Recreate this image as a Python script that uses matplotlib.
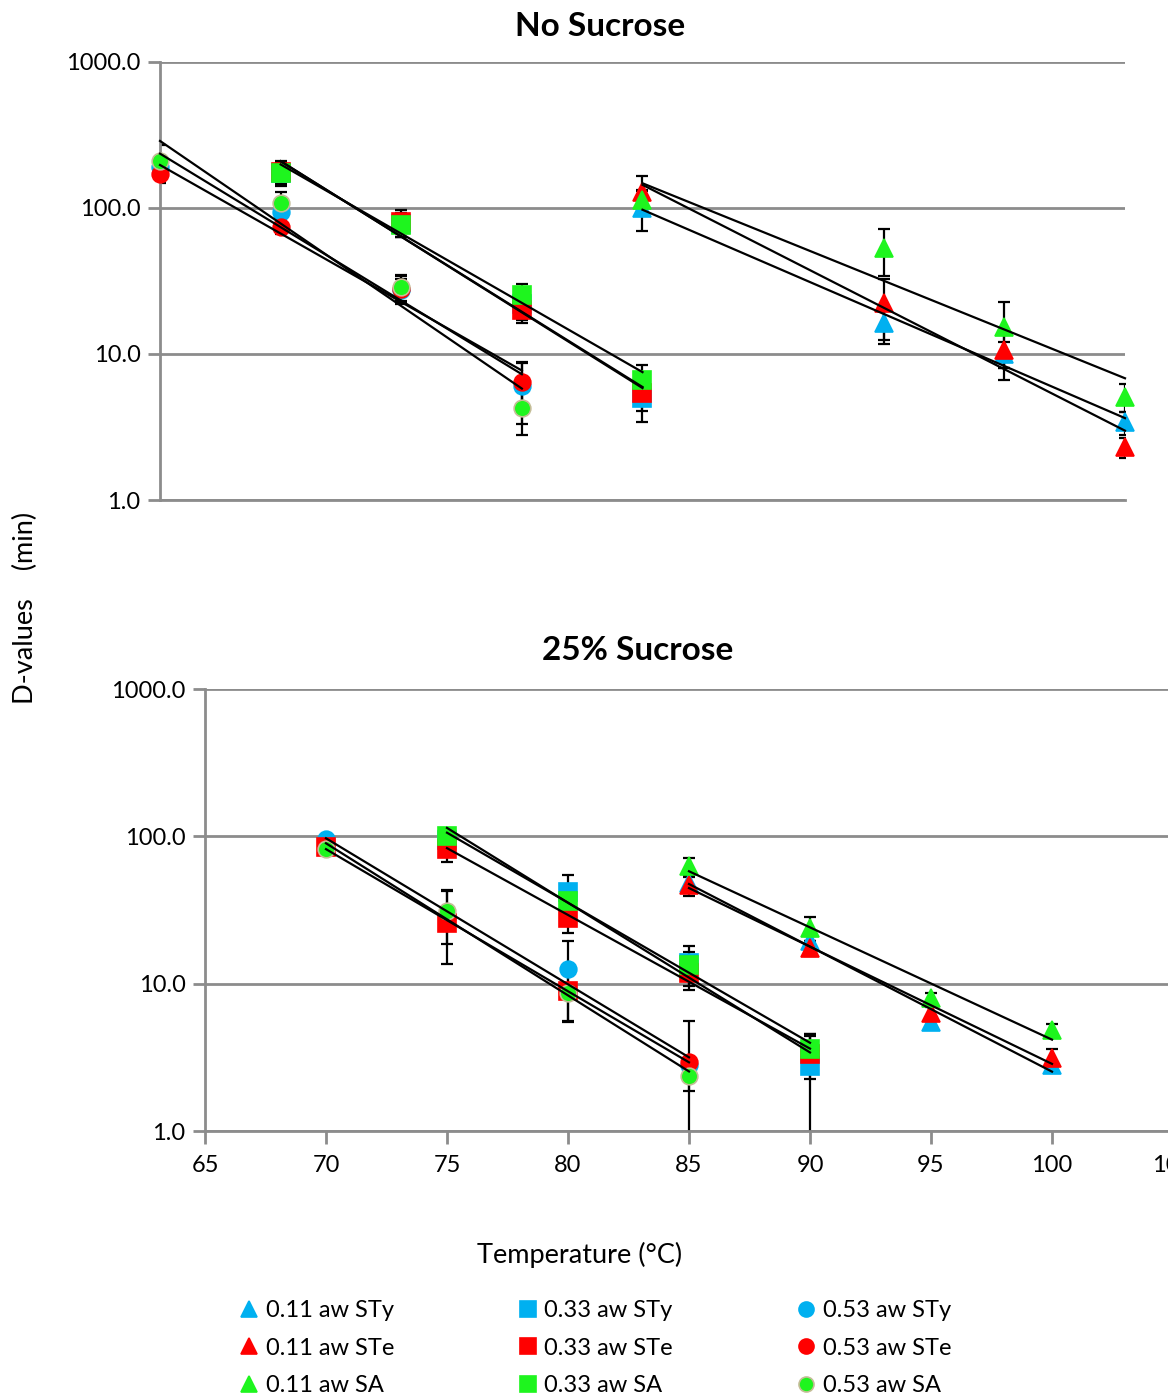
import matplotlib
matplotlib.use('Agg')
import matplotlib.pyplot as plt
from matplotlib.lines import Line2D
from matplotlib.ticker import FuncFormatter, NullLocator
import numpy as np

plt.rcParams['font.family'] = ['Lato', 'DejaVu Sans']

# colours of the three strains
blue = '#00B0F0'
red = '#FF0000'
green = '#1EF51E'
sa_edge = '#C4BD97'

# ---- No Sucrose (top panel) ----
top_tri_x = [83, 93, 98, 103]
top_tri_sty = [100, 16.2, 10.0, 3.4]
top_tri_sty_err = [30, 3.7, 2.0, 0.6]
top_tri_ste = [129, 22.3, 10.6, 2.3]
top_tri_ste_err = [36, 10.5, 4.0, 0.36]
top_tri_sa = [113, 53, 15.4, 5.1]
top_tri_sa_err = [20, 19, 7.4, 1.1]

top_sq_x = [68, 73, 78, 83]
top_sq_sty = [175, 78, 22, 5.0]
top_sq_sty_err = [30, 15, 5, 1.6]
top_sq_ste = [177, 80.5, 20, 5.4]
top_sq_ste_err = [34, 17, 3.7, 1.3]
top_sq_sa = [174, 76.5, 25.4, 6.6]
top_sq_sa_err = [32, 13, 4.6, 1.8]

top_ci_x = [63, 68, 73, 78]
top_ci_sty = [190, 94, 27.4, 6.0]
top_ci_sty_err = [25, 10, 5, 2.7]
top_ci_ste = [171, 74.5, 28, 6.46]
top_ci_ste_err = [23, 8, 6, 2.4]
top_ci_sa = [210, 108, 28.9, 4.25]
top_ci_sa_err = [60, 20, 5.8, 1.45]

# ---- 25% Sucrose (bottom panel) ----
bot_tri_x = [85, 90, 95, 100]
bot_tri_sty = [48, 19.4, 5.5, 2.81]
bot_tri_sty_err = [5, 1.6, 0.56, 0.07]
bot_tri_ste = [47, 17.5, 6.3, 3.12]
bot_tri_ste_err = [7.5, 2.0, 0.6, 0.5]
bot_tri_sa = [62.8, 23.9, 8.0, 4.86]
bot_tri_sa_err = [8.7, 4.4, 0.7, 0.45]

bot_sq_x = [75, 80, 85, 90]
bot_sq_sty = [95, 41.6, 13.8, 2.78]
bot_sq_sty_err = [4, 13, 4.1, 1.8]
bot_sq_ste = [81.6, 28, 11.9, 3.34]
bot_sq_ste_err = [15, 6, 2.8, 1.1]
bot_sq_sa = [100, 36.3, 13.4, 3.63]
bot_sq_sa_err = [3, 8, 3, 0.9]

bot_ci_x = [70, 75, 80, 85]
bot_ci_sty = [96, 28, 12.5, 2.8]
bot_ci_sty_err = [3, 14.5, 7, 0.3]
bot_ci_ste = [84, 25.9, 8.9, 2.96]
bot_ci_ste_err = [3, 2, 1, 2.6]
bot_ci_ste_markers = ['s', 's', 's', 'o']
bot_ci_sa = [81.6, 31, 8.6, 2.38]
bot_ci_sa_err = [3, 12.5, 3, 0.5]

labels = ['0.11 aw STy', '0.11 aw STe', '0.11 aw SA',
          '0.33 aw STy', '0.33 aw STe', '0.33 aw SA',
          '0.53 aw STy', '0.53 aw STe', '0.53 aw SA']

W, H = 1168, 1399
fig = plt.figure(figsize=(W / 100, H / 100), dpi=100)
ax1 = fig.add_axes([160 / W, 1 - 500 / H, 965 / W, 438 / H])
ax2 = fig.add_axes([205 / W, 1 - 1131 / H, 968 / W, 442 / H])

msize = {'^': 13, 's': 13.5, 'o': 12}


def draw_series(ax, x, y, err, marker, color, markers=None):
    ax.errorbar(x, y, yerr=err, fmt='none', ecolor='black', elinewidth=1.6,
                capsize=4.5, capthick=1.6, zorder=2)
    if markers is None:
        markers = [marker] * len(x)
    for xi, yi, m in zip(x, y, markers):
        ec = sa_edge if (m == 'o' and color == green) else color
        ax.plot([xi], [yi], linestyle='none', marker=m, markersize=msize[m],
                markerfacecolor=color, markeredgecolor=ec, markeredgewidth=1.2,
                zorder=3, clip_on=False)


def trend(ax, x, y):
    # exponential trendline like Excel: least squares on ln(y)
    k, b = np.polyfit(x, np.log(y), 1)
    xs = np.array([x[0], x[-1]], dtype=float)
    ax.plot(xs, np.exp(k * xs + b), color='black', lw=1.6, zorder=4,
            clip_on=False)


top_series = [
    (top_tri_x, top_tri_sty, top_tri_sty_err, '^', blue, None),
    (top_tri_x, top_tri_ste, top_tri_ste_err, '^', red, None),
    (top_tri_x, top_tri_sa, top_tri_sa_err, '^', green, None),
    (top_sq_x, top_sq_sty, top_sq_sty_err, 's', blue, None),
    (top_sq_x, top_sq_ste, top_sq_ste_err, 's', red, None),
    (top_sq_x, top_sq_sa, top_sq_sa_err, 's', green, None),
    (top_ci_x, top_ci_sty, top_ci_sty_err, 'o', blue, None),
    (top_ci_x, top_ci_ste, top_ci_ste_err, 'o', red, None),
    (top_ci_x, top_ci_sa, top_ci_sa_err, 'o', green, None),
]
bot_series = [
    (bot_tri_x, bot_tri_sty, bot_tri_sty_err, '^', blue, None),
    (bot_tri_x, bot_tri_ste, bot_tri_ste_err, '^', red, None),
    (bot_tri_x, bot_tri_sa, bot_tri_sa_err, '^', green, None),
    (bot_sq_x, bot_sq_sty, bot_sq_sty_err, 's', blue, None),
    (bot_sq_x, bot_sq_ste, bot_sq_ste_err, 's', red, None),
    (bot_sq_x, bot_sq_sa, bot_sq_sa_err, 's', green, None),
    (bot_ci_x, bot_ci_sty, bot_ci_sty_err, 'o', blue, None),
    (bot_ci_x, bot_ci_ste, bot_ci_ste_err, 'o', red, bot_ci_ste_markers),
    (bot_ci_x, bot_ci_sa, bot_ci_sa_err, 'o', green, None),
]

for ax, series in [(ax1, top_series), (ax2, bot_series)]:
    for x, y, err, m, c, ms in series:
        draw_series(ax, x, y, err, m, c, ms)
        trend(ax, x, y)

gray = '#8C8C8C'
for ax in (ax1, ax2):
    ax.set_yscale('log')
    ax.set_ylim(1, 1000)
    ax.yaxis.set_minor_locator(NullLocator())
    ax.yaxis.set_major_formatter(FuncFormatter(lambda v, p: '%.1f' % v))
    ax.grid(axis='y', color=gray, lw=2)
    ax.set_axisbelow(True)
    for s in ('top', 'right'):
        ax.spines[s].set_visible(False)
    for s in ('left', 'bottom'):
        ax.spines[s].set_color(gray)
        ax.spines[s].set_linewidth(2)
    ax.tick_params(axis='y', direction='out', length=9, width=2, color=gray,
                   labelsize=17, pad=5, labelcolor='black')

ax1.set_xlim(63, 103)
ax1.set_xticks([])

ax2.set_xlim(65, 105)
ax2.set_xticks(range(65, 106, 5))
ax2.tick_params(axis='x', direction='out', length=9, width=2, color=gray,
                labelsize=17, pad=8, labelcolor='black')

fig.text(600 / W, 1 - 27 / H, 'No Sucrose', ha='center', va='center',
         fontsize=24, fontweight='bold')
fig.text(638 / W, 1 - 651 / H, '25% Sucrose', ha='center', va='center',
         fontsize=24, fontweight='bold')
fig.text(25 / W, 1 - 608 / H, 'D-values    (min)', rotation=90,
         ha='center', va='center', fontsize=19.5)
fig.text(580 / W, 1 - 1255 / H, 'Temperature (°C)', ha='center',
         va='center', fontsize=19.5)

handles = []
for m in ['^', 's', 'o']:
    for c in [blue, red, green]:
        ec = sa_edge if (m == 'o' and c == green) else c
        handles.append(Line2D([], [], linestyle='none', marker=m,
                              markersize=msize[m] * 0.9, markerfacecolor=c,
                              markeredgecolor=ec, markeredgewidth=1.2))
fig.legend(handles, labels, ncol=3, loc='upper left',
           bbox_to_anchor=(240 / W, 1 - 1300 / H), frameon=False,
           fontsize=17, handlelength=0.8, handletextpad=0.3,
           columnspacing=5.25, labelspacing=0.7, borderpad=0,
           borderaxespad=0)

fig.savefig('out.png', dpi=100)
